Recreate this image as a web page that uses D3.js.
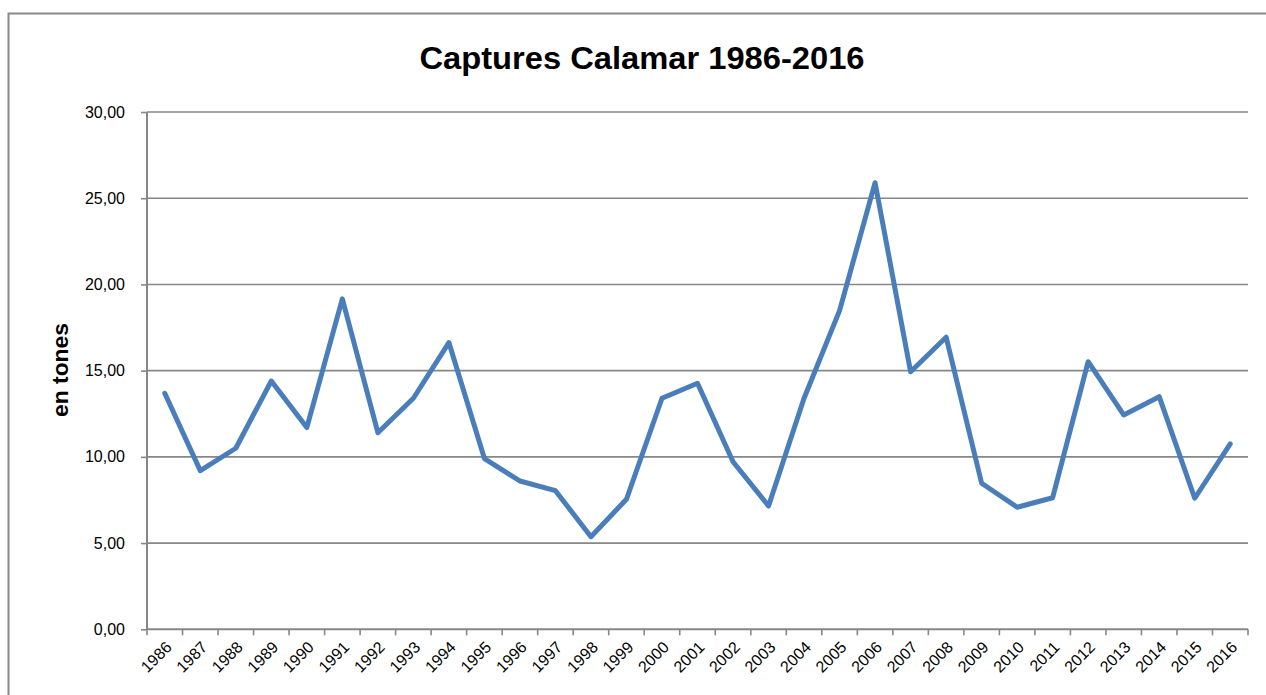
<!DOCTYPE html>
<html>
<head>
<meta charset="utf-8">
<script src="https://cdn.jsdelivr.net/npm/d3@7"></script>
<style>
  html, body { margin: 0; padding: 0; background: #fff; }
  svg { display: block; }
</style>
</head>
<body>
<svg id="chart" width="1266" height="695"></svg>
<script>
const years = ["1986","1987","1988","1989","1990","1991","1992","1993","1994","1995","1996","1997","1998","1999","2000","2001","2002","2003","2004","2005","2006","2007","2008","2009","2010","2011","2012","2013","2014","2015","2016"];
const captures = [13.69,9.20,10.50,14.40,11.70,19.16,11.40,13.40,16.63,9.90,8.60,8.04,5.37,7.54,13.40,14.27,9.72,7.15,13.40,18.48,25.90,14.94,16.94,8.47,7.08,7.63,15.52,12.43,13.49,7.60,10.75];
const yTicks = [0,5,10,15,20,25,30];
const titleText = "Captures Calamar 1986-2016";
const yTitle = "en tones";

const svg = d3.select("#chart");
const margin = {left: 147, right: 1248, top: 112, bottom: 629.3};
const gridColor = "#878787";

// outer frame
svg.append("rect")
  .attr("x", 8.5).attr("y", 13.5)
  .attr("width", 1400).attr("height", 900)
  .attr("fill", "none").attr("stroke", "#8a8a8a").attr("stroke-width", 2);

const x = d3.scaleBand().domain(years).range([margin.left, margin.right]).paddingInner(0).paddingOuter(0);
const y = d3.scaleLinear().domain([0, 30]).range([margin.bottom, margin.top]);

// gridlines
svg.append("g").selectAll("line").data(yTicks.filter(d => d > 0)).join("line")
  .attr("x1", margin.left).attr("x2", margin.right)
  .attr("y1", d => y(d)).attr("y2", d => y(d))
  .attr("stroke", gridColor).attr("stroke-width", 1.6);

// y axis
const yAxis = d3.axisLeft(y).tickValues(yTicks).tickSize(6).tickPadding(16)
  .tickFormat(d => d3.format(".2f")(d).replace(".", ","));
const gy = svg.append("g").attr("transform", `translate(${margin.left},0)`).call(yAxis);
gy.select(".domain").attr("stroke", gridColor).attr("stroke-width", 2).attr("d", `M0,${margin.top}V${margin.bottom}`);
gy.selectAll(".tick line").attr("stroke", gridColor).attr("stroke-width", 1.6);
gy.selectAll(".tick text").attr("font-family", "Liberation Sans, Arial, sans-serif").attr("font-size", 16).attr("fill", "#000");

// x axis
const gx = svg.append("g").attr("transform", `translate(0,${margin.bottom})`);
gx.append("line").attr("x1", margin.left).attr("x2", margin.right).attr("y1", 0).attr("y2", 0)
  .attr("stroke", gridColor).attr("stroke-width", 2);
const bounds = years.map(d => x(d)).concat([x(years[years.length-1]) + x.bandwidth()]);
gx.selectAll("line.tk").data(bounds).join("line").attr("class", "tk")
  .attr("x1", d => d).attr("x2", d => d).attr("y1", 0).attr("y2", 6)
  .attr("stroke", gridColor).attr("stroke-width", 1.6);
gx.selectAll("text").data(years).join("text")
  .attr("transform", d => `translate(${x(d) + x.bandwidth()/2 + 4},${15}) rotate(-45)`)
  .attr("text-anchor", "end").attr("dy", "0.35em")
  .attr("font-family", "Liberation Sans, Arial, sans-serif").attr("font-size", 16).attr("fill", "#000")
  .text(d => d);

// line
const line = d3.line().x((d, i) => x(years[i]) + x.bandwidth()/2).y(d => y(d));
svg.append("path").datum(captures)
  .attr("d", line).attr("fill", "none")
  .attr("stroke", "#4a7ebb").attr("stroke-width", 5)
  .attr("stroke-linejoin", "round").attr("stroke-linecap", "round");

// title
svg.append("text").attr("x", 642).attr("y", 69).attr("text-anchor", "middle")
  .attr("font-family", "Liberation Sans, Arial, sans-serif").attr("font-weight", "bold").attr("font-size", 32)
  .attr("textLength", 445).attr("lengthAdjust", "spacingAndGlyphs")
  .text(titleText);

// y title
svg.append("text").attr("transform", "translate(68,370) rotate(-90)").attr("text-anchor", "middle")
  .attr("font-family", "Liberation Sans, Arial, sans-serif").attr("font-weight", "bold").attr("font-size", 22)
  .attr("textLength", 94).attr("lengthAdjust", "spacingAndGlyphs")
  .text(yTitle);
</script>
</body>
</html>
